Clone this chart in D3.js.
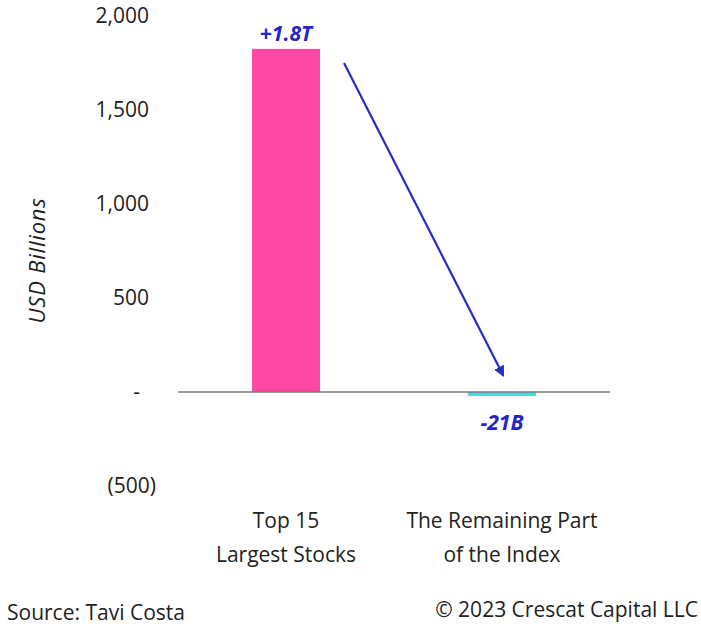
<!DOCTYPE html>
<html>
<head>
<meta charset="utf-8">
<script src="https://cdn.jsdelivr.net/npm/d3@7"></script>
<style>
  html, body { margin: 0; padding: 0; background: #fff; }
  svg { display: block; }
  text { font-family: "Open Sans", "Noto Sans", sans-serif; fill: #1a1a1a; }
</style>
</head>
<body>
<svg id="chart" width="701" height="629"></svg>
<script>
// ---- data ----
const categories = [["Top 15", "Largest Stocks"], ["The Remaining Part", "of the Index"]];
const values = [1825, -21];
const valueLabels = ["+1.8T", "-21B"];
const barColors = ["#ff4aa5", "#3fdedd"];
const tickValues = [2000, 1500, 1000, 500, 0, -500];
const tickLabels = ["2,000", "1,500", "1,000", "500", "-", "(500)"];
const yTitle = "USD Billions";
const sourceText = "Source: Tavi Costa";
const copyrightText = "\u00A9 2023 Crescat Capital LLC";

// ---- layout ----
const svg = d3.select("#chart");
const x = d3.scaleBand().domain(d3.range(values.length)).range([178, 610])
  .paddingInner(0.685).paddingOuter(0.3425);
const y = d3.scaleLinear().domain([-500, 2000]).range([486, 16]);
const fs = 21;

// bars
svg.selectAll("rect.bar").data(values).join("rect")
  .attr("class", "bar")
  .attr("x", (d, i) => x(i))
  .attr("width", x.bandwidth())
  .attr("y", d => Math.min(y(d), y(0)))
  .attr("height", d => Math.abs(y(d) - y(0)))
  .attr("fill", (d, i) => barColors[i]);

// zero axis line
svg.append("line")
  .attr("x1", x.range()[0]).attr("x2", x.range()[1])
  .attr("y1", y(0)).attr("y2", y(0))
  .attr("stroke", "#7a7a7a").attr("stroke-width", 1.3);

// y tick labels (accounting style)
const tickX = v => v < 0 ? 156 : (v === 0 ? 140 : 149);
svg.selectAll("text.tick").data(tickValues).join("text")
  .attr("class", "tick")
  .attr("x", d => tickX(d))
  .attr("y", d => y(d))
  .attr("dy", "0.35em")
  .attr("text-anchor", "end")
  .attr("font-size", fs)
  .style("fill", "#222")
  .text((d, i) => tickLabels[i]);

// y title
svg.append("text")
  .attr("transform", `translate(45, ${y(700)}) rotate(-90)`)
  .attr("text-anchor", "middle")
  .attr("font-size", 22)
  .attr("letter-spacing", 0.8)
  .attr("font-style", "italic")
  .style("fill", "#222")
  .text(yTitle);

// value labels
svg.selectAll("text.vlabel").data(values).join("text")
  .attr("class", "vlabel")
  .attr("x", (d, i) => x(i) + x.bandwidth() / 2)
  .attr("y", d => d >= 0 ? y(d) - 8 : y(0) + 38)
  .attr("text-anchor", "middle")
  .attr("font-size", 21)
  .attr("font-weight", "bold")
  .attr("font-style", "italic")
  .style("fill", "#2424c8")
  .text((d, i) => valueLabels[i]);

// category labels
categories.forEach((lines, i) => {
  const t = svg.append("text")
    .attr("text-anchor", "middle")
    .attr("font-size", fs)
    .style("fill", "#222");
  lines.forEach((ln, j) => {
    t.append("tspan")
      .attr("x", x(i) + x.bandwidth() / 2)
      .attr("y", 528 + j * 34)
      .text(ln);
  });
});

// arrow annotation
const defs = svg.append("defs");
defs.append("marker")
  .attr("id", "ah").attr("viewBox", "0 0 10 10")
  .attr("refX", 8).attr("refY", 5)
  .attr("markerWidth", 5).attr("markerHeight", 5)
  .attr("orient", "auto-start-reverse")
  .append("path").attr("d", "M0,0 L10,5 L0,10 Z").attr("fill", "#2a2ac4");
svg.append("line")
  .attr("x1", x(0) + x.bandwidth() + 24).attr("y1", y(1750))
  .attr("x2", x(1) + x.bandwidth() / 2 + 1).attr("y2", y(90))
  .attr("stroke", "#2a2ac4").attr("stroke-width", 2.2)
  .attr("marker-end", "url(#ah)");

// footer
svg.append("text")
  .attr("x", 7).attr("y", 620)
  .attr("font-size", fs).style("fill", "#222")
  .text(sourceText);
svg.append("text")
  .attr("x", 698).attr("y", 617)
  .attr("text-anchor", "end")
  .attr("font-size", fs).style("fill", "#222")
  .text(copyrightText);
</script>
</body>
</html>
